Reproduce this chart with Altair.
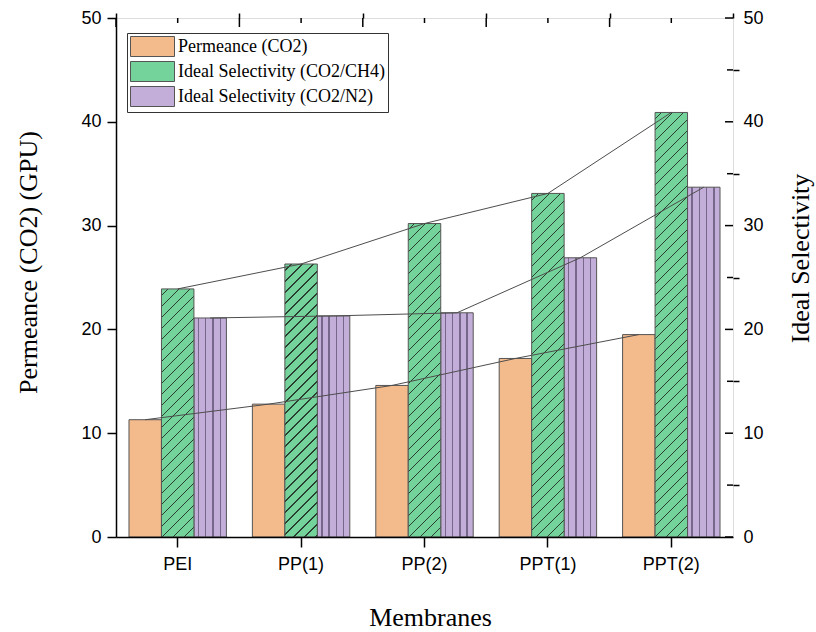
import altair as alt
import pandas as pd

# ---------------- data ----------------
membranes = ["PEI", "PP(1)", "PP(2)", "PPT(1)", "PPT(2)"]
permeance = [11.3, 12.8, 14.6, 17.2, 19.5]
sel_ch4 = [23.9, 26.3, 30.2, 33.1, 40.9]
sel_n2 = [21.1, 21.3, 21.6, 26.9, 33.7]
series_names = ["Permeance (CO2)", "Ideal Selectivity (CO2/CH4)", "Ideal Selectivity (CO2/N2)"]
y_ticks = [0, 10, 20, 30, 40, 50]
y_minor = [5, 15, 25, 35, 45]

rows = []
for i, m in enumerate(membranes):
    for s, vals in zip(series_names, [permeance, sel_ch4, sel_n2]):
        rows.append({"membrane": m, "series": s, "value": vals[i]})
df = pd.DataFrame(rows)
df_members = pd.DataFrame({"membrane": membranes})
df_major = pd.DataFrame({"t": y_ticks})
df_minor = pd.DataFrame({"t": y_minor})

# ---------------- layout / style ----------------
W, H = 617, 519
PX = H / 50.0
OUTER = 0.4
BAR_W = W / len(membranes) / (3 + 2 * OUTER)

ORANGE = "#F3BA8C"
GREEN = "#74D39A"
GREEN_LINE = "#2a3d31"
PURPLE = "#C3AED9"
PURPLE_LINE = "#77678a"
EDGE = "#555555"
SANS = "Liberation Sans"
SERIF = "Liberation Serif"


def green_gradient(val):
    hb = val * PX
    w = BAR_W
    L = w + hb
    c = L * hb / (w * w + hb * hb)
    period, th = 11.0, 1.15
    stops = [alt.GradientStop(offset=0, color=GREEN)]
    pos = period * 0.6
    while pos + th / 2 < L:
        a = (pos - th / 2) / L
        b = (pos + th / 2) / L
        stops += [
            alt.GradientStop(offset=a, color=GREEN),
            alt.GradientStop(offset=a, color=GREEN_LINE),
            alt.GradientStop(offset=b, color=GREEN_LINE),
            alt.GradientStop(offset=b, color=GREEN),
        ]
        pos += period
    stops.append(alt.GradientStop(offset=1, color=GREEN))
    return alt.LinearGradient(gradient="linear", stops=stops, x1=0, y1=0, x2=c * w / hb, y2=c)


def purple_gradient():
    w = BAR_W
    th = 1.4
    stops = [alt.GradientStop(offset=0, color=PURPLE)]
    for p in [4.5, 11.8, 19.1, 26.4]:
        a = (p - th / 2) / w
        b = (p + th / 2) / w
        stops += [
            alt.GradientStop(offset=a, color=PURPLE),
            alt.GradientStop(offset=a, color=PURPLE_LINE),
            alt.GradientStop(offset=b, color=PURPLE_LINE),
            alt.GradientStop(offset=b, color=PURPLE),
        ]
    stops.append(alt.GradientStop(offset=1, color=PURPLE))
    return alt.LinearGradient(gradient="linear", stops=stops, x1=0, y1=0, x2=1, y2=0)


x_scale = alt.Scale(domain=membranes, paddingInner=0, paddingOuter=0)
xo_scale = alt.Scale(domain=series_names, paddingInner=0, paddingOuter=OUTER)
y_scale = alt.Scale(domain=[0, 50], nice=False, zero=True)

common_axis = dict(grid=False, tickColor="black", domainColor="black", tickWidth=1.5,
                   domainWidth=1.5, labelColor="black", zindex=1)

ax_bottom = alt.Axis(title="Membranes", labelFont=SANS, labelFontSize=18, labelAngle=0,
                     tickSize=10, labelPadding=8, titleFont=SERIF, titleFontSize=26,
                     titleFontWeight="normal", titleColor="black", titleX=314, titleY=80,
                     titleBaseline="middle", titleAlign="center", **common_axis)
ax_bottom_minor = alt.Axis(title=None, labels=False, domain=False, tickBand="extent",
                           tickSize=5, **common_axis)

ax_left = alt.Axis(title="Permeance (CO2) (GPU)", values=y_ticks, labelFont=SANS,
                   labelFontSize=18, tickSize=9, labelPadding=6, titleFont=SERIF,
                   titleFontSize=26, titleFontWeight="normal", titleColor="black",
                   titleAngle=270, titleX=-88, titleY=244, titleAlign="center",
                   titleBaseline="middle", **common_axis)
ax_left_minor = alt.Axis(title=None, values=y_minor, labels=False, domain=False, tickSize=6,
                         **common_axis)
ax_right = alt.Axis(title="Ideal Selectivity", orient="right", domain=False, ticks=False,
                    values=y_ticks, labelFont=SANS, labelFontSize=18, labelPadding=10,
                    titleFont=SERIF, titleFontSize=26, titleFontWeight="normal",
                    titleColor="black", titleAngle=270, titleX=67, titleY=240,
                    titleAlign="center", titleBaseline="middle", **common_axis)

base = alt.Chart(df)

legend = alt.Legend(
    title=None, orient="none", legendX=11, legendY=15,
    symbolType="M-2.2,-1H2.2V1H-2.2Z", symbolSize=400, symbolOffset=12,
    symbolStrokeColor=EDGE, symbolStrokeWidth=1, symbolOpacity=1,
    labelFont=SERIF, labelFontSize=18, labelColor="black", labelOffset=15,
    rowPadding=0, padding=3, strokeColor="#333333", fillColor="white",
    labelLimit=400,
)

orange = base.transform_filter(alt.datum.series == series_names[0]).mark_bar(
    stroke=EDGE, strokeWidth=1, opacity=1
).encode(
    x=alt.X("membrane:N", sort=membranes, scale=x_scale, axis=ax_bottom),
    xOffset=alt.XOffset("series:N", scale=xo_scale),
    y=alt.Y("value:Q", scale=y_scale, axis=ax_left),
    color=alt.Color("series:N", scale=alt.Scale(domain=series_names,
                                                range=[ORANGE, GREEN, PURPLE]),
                    legend=legend),
)

purple = base.transform_filter(alt.datum.series == series_names[2]).mark_bar(
    stroke=EDGE, strokeWidth=1, fill=purple_gradient()
).encode(
    x=alt.X("membrane:N", sort=membranes, scale=x_scale, axis=ax_bottom_minor),
    xOffset=alt.XOffset("series:N", scale=xo_scale),
    y=alt.Y("value:Q", scale=y_scale, axis=ax_left_minor),
)

greens = []
for i, m in enumerate(membranes):
    g = base.transform_filter(
        (alt.datum.series == series_names[1]) & (alt.datum.membrane == m)
    ).mark_bar(stroke=EDGE, strokeWidth=1, fill=green_gradient(sel_ch4[i])).encode(
        x=alt.X("membrane:N", sort=membranes, scale=x_scale, axis=None),
        xOffset=alt.XOffset("series:N", scale=xo_scale),
        y=alt.Y("value:Q", scale=y_scale, axis=None),
    )
    greens.append(g)

lines = base.mark_line(color="#4d4d4d", strokeWidth=1).encode(
    x=alt.X("membrane:N", sort=membranes, scale=x_scale, axis=None),
    xOffset=alt.XOffset("series:N", scale=xo_scale),
    y=alt.Y("value:Q", scale=y_scale, axis=ax_right),
    detail="series:N",
)

# inward ticks on the top and right frame edges
top_center = alt.Chart(df_members).mark_rule(color="black", strokeWidth=1.5).encode(
    x=alt.X("membrane:N", sort=membranes, scale=x_scale, axis=None),
    y=alt.value(0), y2=alt.value(5),
)
top_edge = alt.Chart(df_members).mark_rule(color="black", strokeWidth=1.5).encode(
    x=alt.X("membrane:N", sort=membranes, scale=x_scale, axis=None, bandPosition=0),
    y=alt.value(0), y2=alt.value(9),
)
right_major = alt.Chart(df_major).mark_rule(color="black", strokeWidth=1.5).encode(
    y=alt.Y("t:Q", scale=y_scale, axis=None),
    x=alt.value(W - 8), x2=alt.value(W),
)
right_minor = alt.Chart(df_minor).mark_rule(color="black", strokeWidth=1.5).encode(
    y=alt.Y("t:Q", scale=y_scale, axis=None),
    x=alt.value(W - 6), x2=alt.value(W),
)

chart = alt.layer(
    orange, purple, *greens, lines, top_center, top_edge, right_major, right_minor
).resolve_axis(
    x="independent", y="independent"
).properties(
    width=W, height=H,
    autosize=alt.AutoSizeParams(type="none"),
    padding={"left": 116, "top": 18, "right": 83, "bottom": 95},
).configure_view(stroke="black", strokeWidth=1.5).configure(background="white")

chart.save("out.html", embed_options={"renderer": "svg", "actions": False})
